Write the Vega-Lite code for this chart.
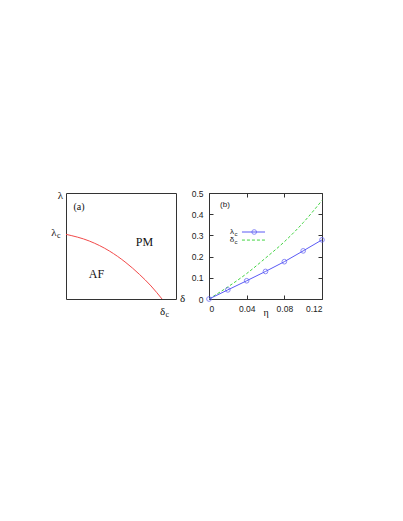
{
  "$schema": "https://vega.github.io/schema/vega-lite/v6.json",
  "padding": {"left": 50, "top": 188, "right": 5, "bottom": 5},
  "background": "white",
  "spacing": 4,
  "config": {
    "view": {"stroke": "#333", "strokeWidth": 1},
    "axis": {"grid": false, "domain": false}
  },
  "datasets": {
    "curve": [
      {"x": 0, "y": 0.61}, {"x": 0.212, "y": 0.547}, {"x": 0.394, "y": 0.453},
      {"x": 0.545, "y": 0.343}, {"x": 0.667, "y": 0.233}, {"x": 0.773, "y": 0.123}, {"x": 0.873, "y": 0}
    ],
    "alabels": [
      {"x": 0.714, "y": 0.538, "t": "PM"},
      {"x": 0.277, "y": 0.236, "t": "AF"}
    ],
    "greek": [
      {"x": -0.05, "y": 0.972, "t": "λ"},
      {"x": 1.059, "y": 0.0, "t": "δ"}
    ],
    "greeksub": [
      {"x": -0.109, "y": 0.623, "t": "λ", "s": "c"},
      {"x": 0.877, "y": -0.123, "t": "δ", "s": "c"}
    ],
    "lam": [
      {"x": 0, "y": 0}, {"x": 0.02, "y": 0.043}, {"x": 0.04, "y": 0.086},
      {"x": 0.06, "y": 0.13}, {"x": 0.08, "y": 0.176}, {"x": 0.1, "y": 0.227}, {"x": 0.12, "y": 0.279}
    ],
    "del": [
      {"x": 0, "y": 0}, {"x": 0.02, "y": 0.057}, {"x": 0.04, "y": 0.12},
      {"x": 0.06, "y": 0.193}, {"x": 0.08, "y": 0.27}, {"x": 0.1, "y": 0.36}, {"x": 0.12, "y": 0.465}
    ],
    "legl": [{"x": 0.035, "x2": 0.0595, "y": 0.316, "xm": 0.048}],
    "legd": [{"x": 0.035, "x2": 0.0595, "y": 0.278}],
    "legt": [
      {"x": 0.0244, "y": 0.316, "t": "λ", "s": "c"},
      {"x": 0.0244, "y": 0.278, "t": "δ", "s": "c"}
    ]
  },
  "hconcat": [
    {
      "width": 110,
      "height": 106,
      "layer": [
        {
          "data": {"name": "curve"},
          "mark": {"type": "line", "color": "#f24a4a", "strokeWidth": 1, "interpolate": "monotone"},
          "encoding": {
            "x": {"field": "x", "type": "quantitative", "scale": {"domain": [0, 1], "nice": false}, "axis": null},
            "y": {"field": "y", "type": "quantitative", "scale": {"domain": [0, 1], "nice": false}, "axis": null}
          }
        },
        {
          "data": {"values": [{"x": 0.118, "y": 0.868, "t": "(a)"}]},
          "mark": {"type": "text", "font": "Liberation Serif", "fontSize": 10, "color": "#111", "clip": false},
          "encoding": {
            "x": {"field": "x", "type": "quantitative"},
            "y": {"field": "y", "type": "quantitative"},
            "text": {"field": "t"}
          }
        },
        {
          "data": {"name": "alabels"},
          "mark": {"type": "text", "font": "Liberation Serif", "fontSize": 12, "color": "#111"},
          "encoding": {
            "x": {"field": "x", "type": "quantitative"},
            "y": {"field": "y", "type": "quantitative"},
            "text": {"field": "t"}
          }
        },
        {
          "data": {"name": "greek"},
          "mark": {"type": "text", "font": "Liberation Serif", "fontSize": 11, "color": "#111"},
          "encoding": {
            "x": {"field": "x", "type": "quantitative"},
            "y": {"field": "y", "type": "quantitative"},
            "text": {"field": "t"}
          }
        },
        {
          "data": {"name": "greeksub"},
          "mark": {"type": "text", "font": "Liberation Serif", "fontSize": 11, "color": "#111"},
          "encoding": {
            "x": {"field": "x", "type": "quantitative"},
            "y": {"field": "y", "type": "quantitative"},
            "text": {"field": "t"}
          }
        },
        {
          "data": {"name": "greeksub"},
          "mark": {"type": "text", "font": "Liberation Serif", "fontSize": 8, "color": "#111", "align": "left", "dx": 3, "dy": 3},
          "encoding": {
            "x": {"field": "x", "type": "quantitative"},
            "y": {"field": "y", "type": "quantitative"},
            "text": {"field": "s"}
          }
        }
      ]
    },
    {
      "width": 113,
      "height": 106,
      "resolve": {"axis": {"x": "independent", "y": "independent"}},
      "layer": [
        {
          "data": {"name": "del"},
          "mark": {"type": "line", "color": "#44d444", "strokeWidth": 1, "strokeDash": [3, 2], "interpolate": "monotone"},
          "encoding": {
            "x": {"field": "x", "type": "quantitative", "scale": {"domain": [0, 0.12], "nice": false},
              "axis": {"orient": "bottom", "values": [0, 0.04, 0.08, 0.12], "labelExpr": "datum.value == 0 ? '0' : format(datum.value, '.2f')",
                "tickSize": -4, "tickColor": "#333", "labelPadding": 9, "labelFont": "Liberation Sans", "labelFontSize": 8.5, "labelColor": "#222",
                "title": "η", "titleFont": "Liberation Serif", "titleFontSize": 10, "titleFontWeight": "normal", "titleColor": "#111", "titlePadding": -5}},
            "y": {"field": "y", "type": "quantitative", "scale": {"domain": [0, 0.5], "nice": false},
              "axis": {"orient": "left", "values": [0, 0.1, 0.2, 0.3, 0.4, 0.5], "labelExpr": "datum.value == 0 ? '0' : format(datum.value, '.1f')",
                "tickSize": -4, "tickColor": "#333", "labelPadding": 10, "labelFont": "Liberation Sans", "labelFontSize": 8.5, "labelColor": "#222", "title": null}}
          }
        },
        {
          "data": {"name": "del"},
          "mark": {"type": "line", "opacity": 0},
          "encoding": {
            "x": {"field": "x", "type": "quantitative",
              "axis": {"orient": "top", "values": [0, 0.04, 0.08, 0.12], "labels": false, "tickSize": -4, "tickColor": "#333", "title": null}},
            "y": {"field": "y", "type": "quantitative",
              "axis": {"orient": "right", "values": [0, 0.1, 0.2, 0.3, 0.4, 0.5], "labels": false, "tickSize": -4, "tickColor": "#333", "title": null}}
          }
        },
        {
          "data": {"name": "lam"},
          "mark": {"type": "line", "color": "#5a5af5", "strokeWidth": 1},
          "encoding": {
            "x": {"field": "x", "type": "quantitative", "axis": null},
            "y": {"field": "y", "type": "quantitative", "axis": null}
          }
        },
        {
          "data": {"name": "lam"},
          "mark": {"type": "point", "shape": "circle", "filled": false, "color": "#5a5af5", "size": 22, "strokeWidth": 1, "clip": false},
          "encoding": {
            "x": {"field": "x", "type": "quantitative", "axis": null},
            "y": {"field": "y", "type": "quantitative", "axis": null}
          }
        },
        {
          "data": {"name": "legl"},
          "mark": {"type": "rule", "color": "#5a5af5", "strokeWidth": 1},
          "encoding": {
            "x": {"field": "x", "type": "quantitative", "axis": null},
            "x2": {"field": "x2"},
            "y": {"field": "y", "type": "quantitative", "axis": null}
          }
        },
        {
          "data": {"name": "legl"},
          "mark": {"type": "point", "shape": "circle", "filled": false, "color": "#5a5af5", "size": 22, "strokeWidth": 1},
          "encoding": {
            "x": {"field": "xm", "type": "quantitative", "axis": null},
            "y": {"field": "y", "type": "quantitative", "axis": null}
          }
        },
        {
          "data": {"name": "legd"},
          "mark": {"type": "rule", "color": "#44d444", "strokeWidth": 1, "strokeDash": [3, 2]},
          "encoding": {
            "x": {"field": "x", "type": "quantitative", "axis": null},
            "x2": {"field": "x2"},
            "y": {"field": "y", "type": "quantitative", "axis": null}
          }
        },
        {
          "data": {"name": "legt"},
          "mark": {"type": "text", "font": "Liberation Sans", "fontSize": 8, "color": "#222"},
          "encoding": {
            "x": {"field": "x", "type": "quantitative", "axis": null},
            "y": {"field": "y", "type": "quantitative", "axis": null},
            "text": {"field": "t"}
          }
        },
        {
          "data": {"name": "legt"},
          "mark": {"type": "text", "font": "Liberation Sans", "fontSize": 6, "color": "#222", "align": "left", "dx": 2.5, "dy": 2},
          "encoding": {
            "x": {"field": "x", "type": "quantitative", "axis": null},
            "y": {"field": "y", "type": "quantitative", "axis": null},
            "text": {"field": "s"}
          }
        },
        {
          "data": {"values": [{"x": 0.017, "y": 0.443, "t": "(b)"}]},
          "mark": {"type": "text", "font": "Liberation Sans", "fontSize": 8, "color": "#222"},
          "encoding": {
            "x": {"field": "x", "type": "quantitative", "axis": null},
            "y": {"field": "y", "type": "quantitative", "axis": null},
            "text": {"field": "t"}
          }
        }
      ]
    }
  ]
}
